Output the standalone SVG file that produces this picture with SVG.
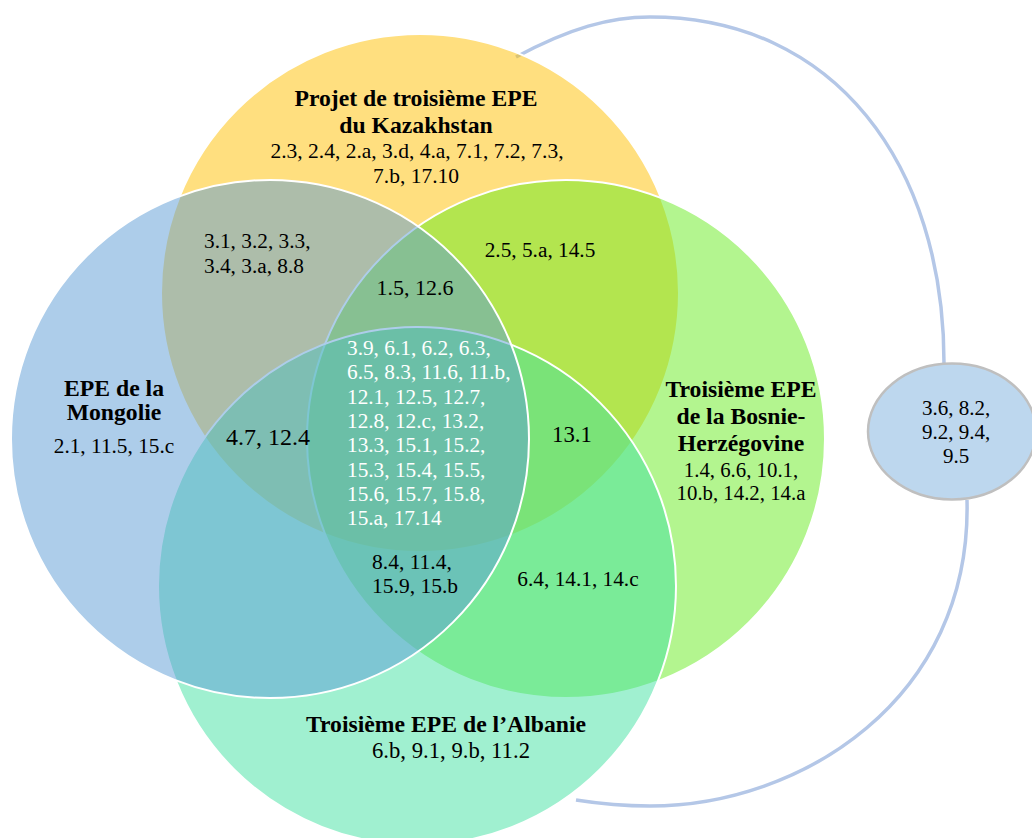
<svg xmlns="http://www.w3.org/2000/svg" width="1032" height="838" viewBox="0 0 1032 838">
<style>
.set{fill-opacity:0.5;stroke:#FFFFFF;stroke-width:2}
text{font-family:"Liberation Serif","Times New Roman",serif;font-size:21.3px;fill:#000}
.b{font-weight:bold;font-size:23.7px}
.m{text-anchor:middle}
.w{fill:#FFFFFF}
.conn{fill:none;stroke:#B4C7E7;stroke-width:3.5}
</style>
<rect width="1032" height="838" fill="#FFFFFF"/>
<g id="connectors">
<path class="conn" d="M516 57 C570 28 610 17 650 17 C835 17 944 165 944 363"/>
<path class="conn" d="M967 500 C972 700 800 806 650 806 C615 806 595 803 576 800"/>
</g>
<g id="kazakhstan">
<circle class="set" cx="420" cy="293" r="259" fill="#FFC000"/>
<text class="b m" x="416" y="106">Projet de troisième EPE</text>
<text class="b m" x="416" y="133">du Kazakhstan</text>
<text class="m" x="417" y="158" style="font-size:21.5px">2.3, 2.4, 2.a, 3.d, 4.a, 7.1, 7.2, 7.3,</text>
<text class="m" x="416" y="183" style="font-size:21.5px">7.b, 17.10</text>
</g>
<g id="bosnie">
<circle class="set" cx="566" cy="439" r="259" fill="#68EB20"/>
<text class="b m" x="741" y="397">Troisième EPE</text>
<text class="b m" x="741" y="423.5">de la Bosnie-</text>
<text class="b m" x="741" y="451">Herzégovine</text>
<text class="m" x="741" y="476.5" style="font-size:20.8px">1.4, 6.6, 10.1,</text>
<text class="m" x="741" y="500" style="font-size:20.8px">10.b, 14.2, 14.a</text>
</g>
<g id="albanie">
<circle class="set" cx="417" cy="586" r="259" fill="#41E1A1"/>
<text class="b m" x="446" y="732">Troisième EPE de l’Albanie</text>
<text class="m" x="451" y="758" style="font-size:22.7px">6.b, 9.1, 9.b, 11.2</text>
</g>
<g id="mongolie">
<circle class="set" cx="270" cy="439" r="259" fill="#5B9BD5"/>
<text class="b m" x="114" y="396">EPE de la</text>
<text class="b m" x="114" y="419.5">Mongolie</text>
<text class="m" x="114" y="453">2.1, 11.5, 15.c</text>
</g>
<g id="intersections">
<text x="204" y="248">3.1, 3.2, 3.3,</text>
<text x="204" y="272.5">3.4, 3.a, 8.8</text>
<text class="m" x="415" y="295" style="font-size:22px">1.5, 12.6</text>
<text class="m" x="540" y="257">2.5, 5.a, 14.5</text>
<text class="m" x="268" y="445" style="font-size:24px">4.7, 12.4</text>
<text class="m" x="572" y="442" style="font-size:22.8px">13.1</text>
<text x="372" y="569" style="font-size:21.5px">8.4, 11.4,</text>
<text x="372" y="593" style="font-size:21.5px">15.9, 15.b</text>
<text class="m" x="578" y="586">6.4, 14.1, 14.c</text>
<g class="w">
<text class="w" x="347" y="355">3.9, 6.1, 6.2, 6.3,</text>
<text class="w" x="347" y="379.3">6.5, 8.3, 11.6, 11.b,</text>
<text class="w" x="347" y="403.6">12.1, 12.5, 12.7,</text>
<text class="w" x="347" y="427.9">12.8, 12.c, 13.2,</text>
<text class="w" x="347" y="452.2">13.3, 15.1, 15.2,</text>
<text class="w" x="347" y="476.5">15.3, 15.4, 15.5,</text>
<text class="w" x="347" y="500.8">15.6, 15.7, 15.8,</text>
<text class="w" x="347" y="525.1">15.a, 17.14</text>
</g>
</g>
<g id="autres">
<ellipse cx="952" cy="431.5" rx="84" ry="68" fill="#BDD7EE" stroke="#BFBFBF" stroke-width="2.5"/>
<text class="m" x="956" y="415" style="font-size:21px">3.6, 8.2,</text>
<text class="m" x="956" y="439" style="font-size:21px">9.2, 9.4,</text>
<text class="m" x="956" y="462.5" style="font-size:21px">9.5</text>
</g>
</svg>
